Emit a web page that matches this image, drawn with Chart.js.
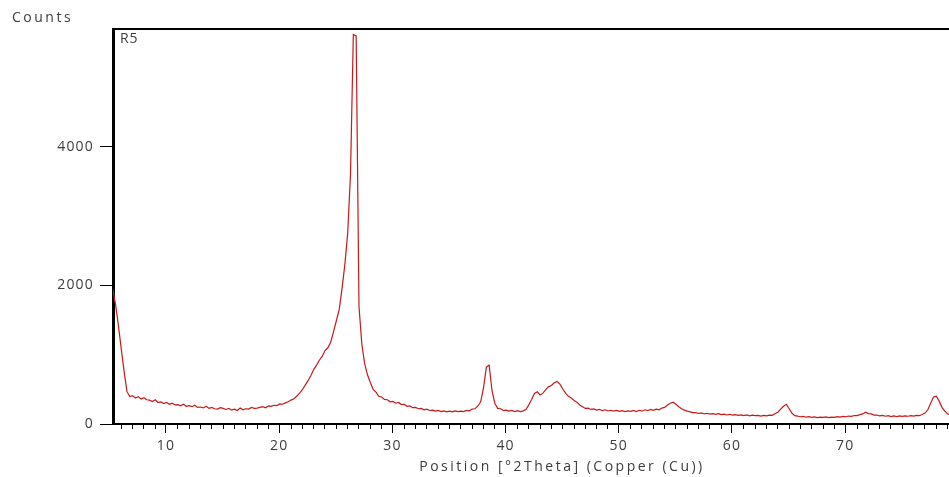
<!DOCTYPE html>
<html>
<head>
<meta charset="utf-8">
<script src="https://cdn.jsdelivr.net/npm/chart.js@4.4.1/dist/chart.umd.min.js"></script>
<style>
  html, body { margin: 0; background: #fff; }
  #wrap { width: 949px; height: 477px; position: relative; }
</style>
</head>
<body>
<div id="wrap"><canvas id="xrd"></canvas></div>
<script>
// scan settings (°2Theta)
const scanStart = 5.3;
const scanStep = 0.25;

// counts, one row = 5 degrees
const counts = [
  1950, 1720, 1420, 1080, 760, 470, 395, 410, 375, 395, 360, 380, 350, 345, 325, 350, 310, 320, 295, 310,
  285, 300, 275, 280, 262, 285, 255, 265, 250, 270, 240, 245, 232, 255, 225, 240, 220, 215, 235, 225,
  210, 225, 200, 215, 195, 230, 205, 220, 215, 240, 225, 230, 240, 250, 235, 260, 255, 270, 265, 290,
  285, 305, 320, 345, 365, 400, 445, 495, 560, 625, 700, 785, 850, 920, 975, 1060, 1100, 1180, 1330, 1490,
  1650, 1950, 2300, 2750, 3600, 5620, 5600, 1700, 1150, 870, 710, 600, 500, 460, 400, 390, 355, 350, 320, 325,
  300, 310, 280, 285, 255, 260, 235, 240, 220, 225, 205, 215, 195, 200, 185, 195, 180, 190, 175, 185,
  175, 190, 180, 185, 178, 195, 190, 215, 220, 260, 320, 520, 820, 850, 480, 300, 225, 220, 195, 200,
  185, 195, 180, 192, 178, 190, 210, 275, 355, 440, 465, 420, 445, 495, 540, 555, 595, 615, 575, 505,
  445, 400, 375, 340, 315, 275, 250, 225, 228, 210, 218, 200, 210, 192, 205, 188, 198, 185, 195, 182,
  192, 180, 190, 182, 195, 180, 198, 185, 205, 192, 210, 198, 215, 205, 230, 240, 275, 300, 315, 285,
  250, 220, 200, 185, 175, 165, 165, 152, 160, 145, 155, 142, 150, 138, 148, 135, 142, 130, 140, 128,
  135, 125, 132, 122, 130, 118, 128, 120, 125, 115, 125, 118, 128, 125, 148, 170, 215, 255, 285, 220,
  155, 120, 115, 105, 110, 98, 105, 95, 102, 92, 100, 95, 102, 92, 100, 95, 105, 100, 110, 105,
  115, 110, 122, 120, 135, 145, 170, 150, 145, 128, 130, 118, 125, 112, 120, 108, 118, 108, 116, 110,
  118, 112, 122, 115, 125, 120, 138, 158, 205, 300, 390, 400, 330, 240, 185, 145, 135
];

const xMajorTicks = [10, 20, 30, 40, 50, 60, 70];
const yMajorTicks = [0, 2000, 4000];
const sampleName = 'R5';
const yTitle = 'Counts';
const xTitle = 'Position [°2Theta] (Copper (Cu))';

const points = counts.map((c, i) => ({ x: +(scanStart + i * scanStep).toFixed(2), y: c }));

const textColor = '#3c3c3c';
const textFont = { family: 'Open Sans', size: 14 };

// tick labels are drawn a little spaced out, like the original
const spacing = {
  id: 'spacing',
  beforeDraw(chart) { chart.ctx.letterSpacing = '1.2px'; }
};

// top frame line, minor x ticks, titles
const frame = {
  id: 'frame',
  afterDraw(chart) {
    const { ctx, chartArea: a, scales: { x } } = chart;
    ctx.save();
    ctx.strokeStyle = '#000';
    ctx.lineWidth = 2;
    ctx.beginPath();
    ctx.moveTo(a.left, a.top);
    ctx.lineTo(a.right + 2, a.top);
    ctx.stroke();

    ctx.lineWidth = 1;
    ctx.beginPath();
    for (let v = 6; v <= 79; v++) {
      if (v % 10 === 0) continue;
      const px = Math.round(x.getPixelForValue(v)) + 0.5;
      ctx.moveTo(px, a.bottom);
      ctx.lineTo(px, a.bottom + 5);
    }
    ctx.stroke();

    ctx.fillStyle = textColor;
    ctx.font = '14px "Open Sans"';
    ctx.textBaseline = 'middle';
    ctx.letterSpacing = '2.5px';
    ctx.textAlign = 'left';
    ctx.fillText(yTitle, 12, 18);
    ctx.letterSpacing = '0.8px';
    ctx.fillText(sampleName, a.left + 7, a.top + 10);
    ctx.letterSpacing = '2.5px';
    ctx.textAlign = 'center';
    ctx.fillText(xTitle, 562, 467);
    ctx.restore();
  }
};

new Chart(document.getElementById('xrd'), {
  type: 'line',
  data: {
    datasets: [{
      data: points,
      borderColor: '#c81818',
      borderWidth: 1.2,
      pointRadius: 0,
      tension: 0
    }]
  },
  plugins: [spacing, frame],
  options: {
    responsive: true,
    maintainAspectRatio: false,
    animation: false,
    parsing: false,
    layout: { padding: { top: 29, right: 0, bottom: 0, left: 0 } },
    plugins: {
      legend: { display: false },
      tooltip: { enabled: false }
    },
    scales: {
      x: {
        type: 'linear',
        min: 5.32,
        max: 79.17,
        afterBuildTicks: (s) => { s.ticks = xMajorTicks.map(v => ({ value: v })); },
        afterFit: (s) => { s.height = 53; },
        grid: { drawOnChartArea: false, tickLength: 9, color: '#000' },
        border: { color: '#000', width: 2 },
        ticks: { color: textColor, font: textFont, padding: 5, maxRotation: 0 }
      },
      y: {
        min: 0,
        max: 5700,
        afterBuildTicks: (s) => { s.ticks = yMajorTicks.map(v => ({ value: v })); },
        afterFit: (s) => { s.width = 113; },
        grid: { drawOnChartArea: false, tickLength: 13, color: '#000' },
        border: { color: '#000', width: 3 },
        ticks: {
          color: textColor,
          font: textFont,
          padding: 6,
          callback: (v) => String(v)
        }
      }
    }
  }
});
</script>
</body>
</html>
